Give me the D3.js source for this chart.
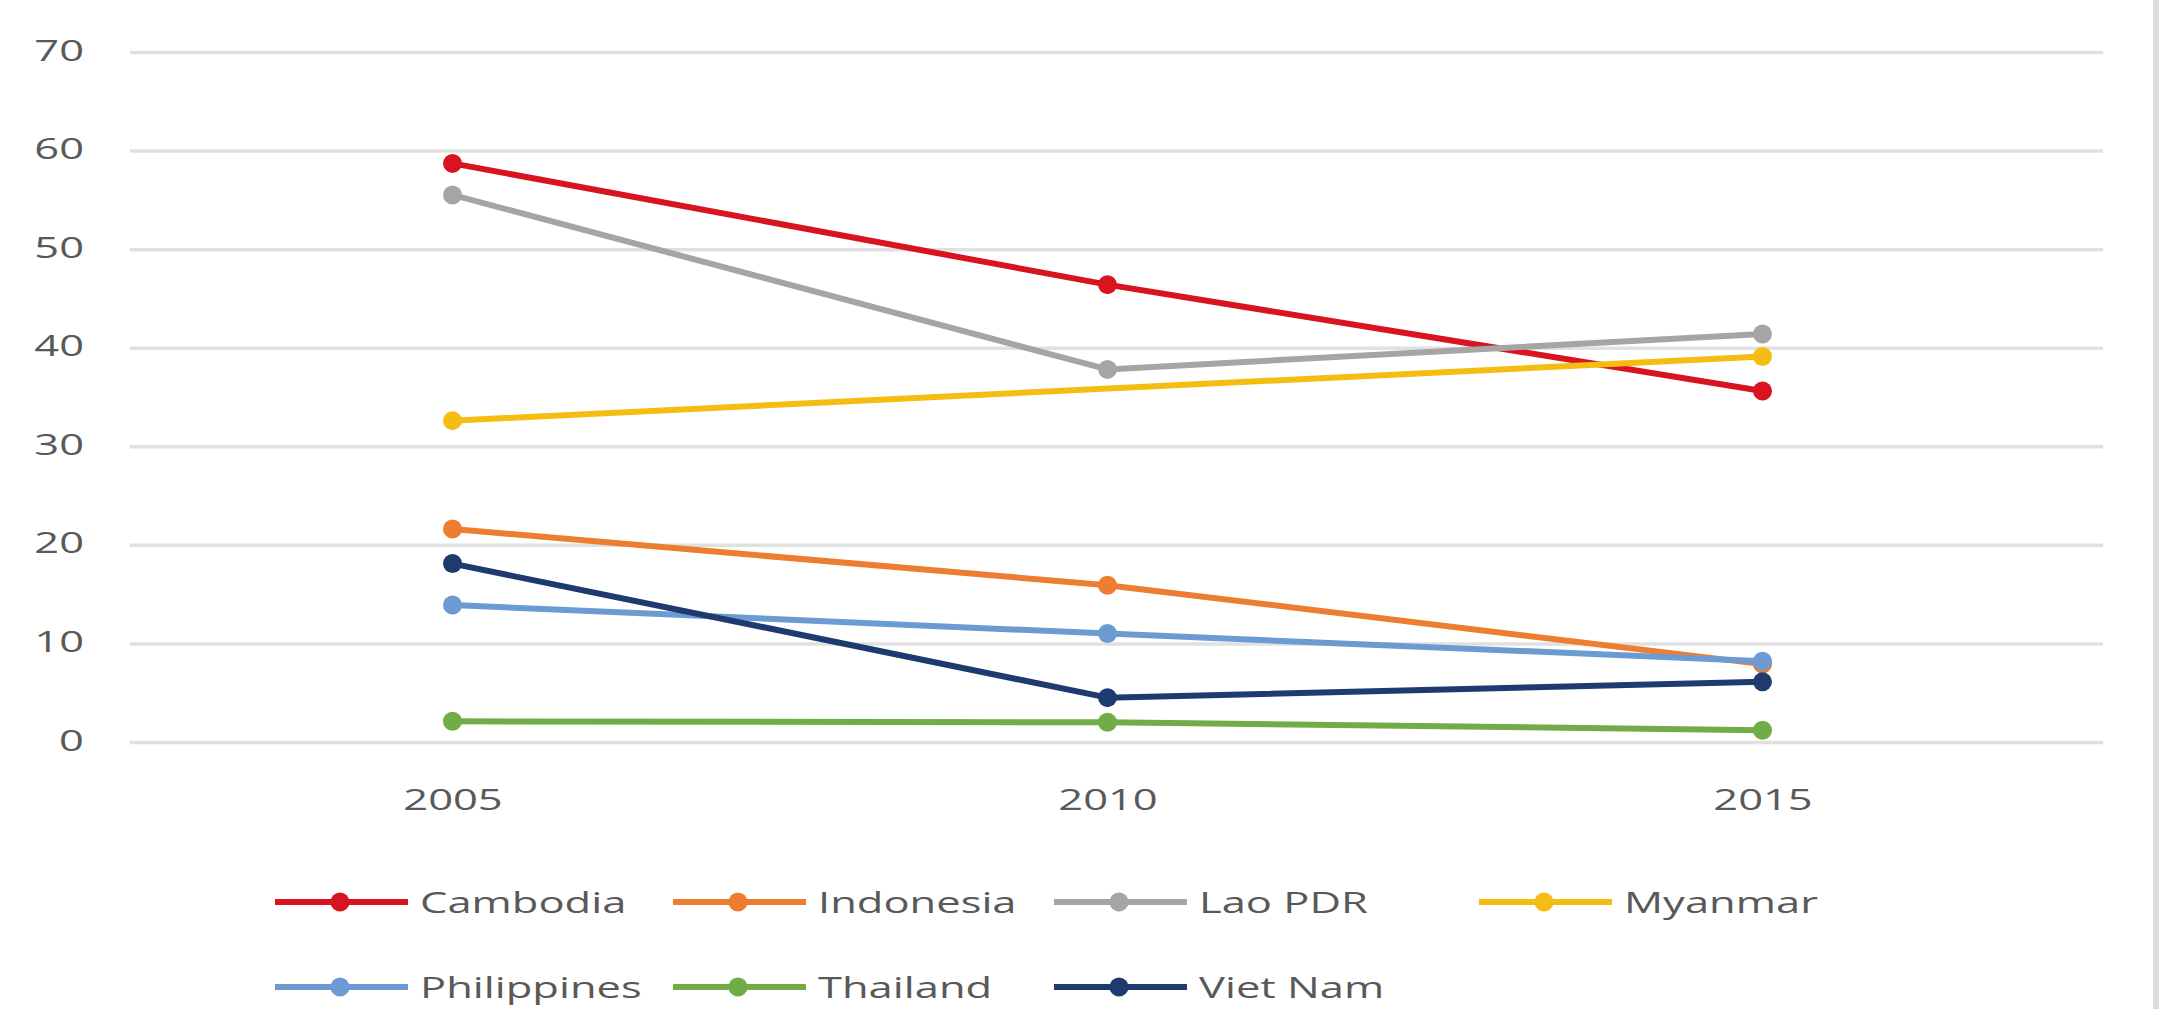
<!DOCTYPE html>
<html>
<head>
<meta charset="utf-8">
<script src="https://cdn.jsdelivr.net/npm/d3@7"></script>
<style>
  html, body { margin: 0; padding: 0; background: #ffffff; }
  svg { display: block; }
  text { font-family: "Open Sans", "Noto Sans", sans-serif; fill: #595959; }
</style>
</head>
<body>
<svg id="chart" width="2173" height="1009"></svg>
<script>
// Years on the category axis
const years = ["2005", "2010", "2015"];

// One value per year for each country (null = no figure for that year)
const cambodia    = [58.7, 46.4, 35.6];
const indonesia   = [21.6, 15.9, 7.9];
const laoPDR      = [55.5, 37.8, 41.4];
const myanmar     = [32.6, null, 39.1];
const philippines = [13.9, 11.0, 8.2];
const thailand    = [2.1, 2.0, 1.2];
const vietNam     = [18.1, 4.5, 6.1];

// Value axis ticks
const yTicks = [0, 10, 20, 30, 40, 50, 60, 70];

const seriesNames  = ["Cambodia", "Indonesia", "Lao PDR", "Myanmar", "Philippines", "Thailand", "Viet Nam"];
const seriesValues = [cambodia, indonesia, laoPDR, myanmar, philippines, thailand, vietNam];
const seriesColors = ["#d7141f", "#ed7d31", "#a5a5a5", "#f5bd12", "#6b9bd2", "#70ad47", "#1f3a6e"];

// missing years are skipped, so the line joins the neighbouring points
const series = seriesNames.map((name, i) => ({
  name,
  color: seriesColors[i],
  points: years
    .map((yr, j) => ({ year: yr, value: seriesValues[i][j] }))
    .filter(p => p.value !== null)
}));

const svg = d3.select("#chart");
const textScaleX = 1.5;   // wide lettering used throughout the chart
const fontSize = 29;

const gridLeft = 130, gridRight = 2103;
const x = d3.scalePoint().domain(years).range([125, 2090]).padding(0.5);
const y = d3.scaleLinear().domain([0, 70]).range([742, 52]);

// light frame on the right side
svg.append("line")
  .attr("x1", 2156).attr("x2", 2156).attr("y1", 0).attr("y2", 1009)
  .attr("stroke", "#dcdcdc").attr("stroke-width", 6);

// horizontal gridlines + value labels
const yAxis = d3.axisLeft(y)
  .tickValues(yTicks)
  .tickSize(-(gridRight - gridLeft))
  .tickPadding(0)
  .tickFormat(d3.format("d"));

const gAxis = svg.append("g")
  .attr("transform", `translate(${gridLeft},0)`)
  .call(yAxis);
gAxis.select(".domain").remove();
gAxis.selectAll(".tick line")
  .attr("stroke", "#e0e0e0")
  .attr("stroke-width", 3.5);
gAxis.selectAll(".tick text")
  .attr("x", null)
  .attr("dy", null)
  .attr("text-anchor", "end")
  .attr("font-size", fontSize)
  .attr("font-family", "Open Sans, Noto Sans, sans-serif")
  .attr("fill", "#636363")
  .attr("transform", `translate(${84 - gridLeft},8) scale(${textScaleX},1)`);

// category labels
const xAxis = d3.axisBottom(x).tickSize(0).tickPadding(0);
const gX = svg.append("g").attr("transform", "translate(0,742)").call(xAxis);
gX.select(".domain").remove();
gX.selectAll(".tick text")
  .attr("y", null)
  .attr("dy", null)
  .attr("text-anchor", "middle")
  .attr("font-size", fontSize)
  .attr("font-family", "Open Sans, Noto Sans, sans-serif")
  .attr("fill", "#636363")
  .attr("transform", `translate(0,68) scale(${textScaleX},1)`);

// series lines and markers
const line = d3.line().x(d => x(d.year)).y(d => y(d.value));
const gSeries = svg.append("g");
series.forEach(s => {
  gSeries.append("path")
    .datum(s.points)
    .attr("d", line)
    .attr("fill", "none")
    .attr("stroke", s.color)
    .attr("stroke-width", 6)
    .attr("stroke-linejoin", "round");
  gSeries.selectAll(null)
    .data(s.points)
    .join("circle")
    .attr("cx", d => x(d.year))
    .attr("cy", d => y(d.value))
    .attr("r", 9.5)
    .attr("fill", s.color);
});

// legend: two rows, four columns
const legendCols = [420, 818, 1199, 1624];
const legendRows = [902, 987];
const legend = svg.append("g");
series.forEach((s, i) => {
  const tx = legendCols[i % 4];
  const ty = legendRows[Math.floor(i / 4)];
  const g = legend.append("g");
  g.append("line")
    .attr("x1", tx - 145).attr("x2", tx - 12)
    .attr("y1", ty).attr("y2", ty)
    .attr("stroke", s.color).attr("stroke-width", 6);
  g.append("circle")
    .attr("cx", tx - 80).attr("cy", ty).attr("r", 9.5)
    .attr("fill", s.color);
  g.append("text")
    .attr("transform", `translate(${tx},${ty + 11}) scale(${textScaleX},1)`)
    .attr("font-size", fontSize)
    .attr("fill", "#636363")
    .text(s.name);
});
</script>
</body>
</html>
